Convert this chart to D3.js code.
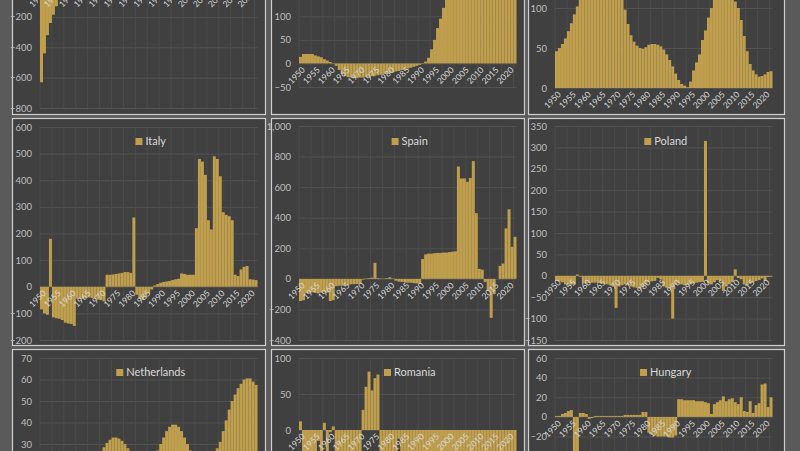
<!DOCTYPE html>
<html><head><meta charset="utf-8">
<script src="https://cdn.jsdelivr.net/npm/d3@7"></script>
<style>
html,body{margin:0;padding:0;background:#5a5a5a;}
svg{display:block;}
</style>
</head><body>
<svg id="chart" width="800" height="451"></svg>
<script>
// ---------- DATA ----------
const years = d3.range(1950, 2023);
const xTickLabels = [1950,1955,1960,1965,1970,1975,1980,1985,1990,1995,2000,2005,2010,2015,2020];

const topLeftValues = [
  -630,-440,-320,-240,-185,-130,-60,-20,10,30,
  60,90,120,150,170,200,220,240,260,280,
  300,310,320,330,320,300,280,260,240,230,
  220,210,200,190,180,180,190,200,220,250,
  280,300,320,330,340,350,360,370,380,390,
  400,410,420,430,440,450,460,470,480,490,
  500,510,520,530,540,550,540,530,520,510,
  500,490,480];
const topLeftTicks = [-800,-600,-400,-200,0,200,400,600];

const topMiddleValues = [
  14,20,20,20,20,17,15,13,9,6,
  3,1,-5,-14,-22,-27,-29,-30,-31,-31,
  -30,-30,-29,-28,-27,-26,-25,-24,-22,-21,
  -20,-19,-17,-16,-14,-13,-11,-9,-7,-5,
  -3,-1,4,12,30,50,75,95,118,135,
  150,170,190,205,220,230,240,245,250,255,
  260,262,265,268,270,272,275,278,280,283,
  285,288,290];
const topMiddleTicks = [-50,0,50,100,150,200,250,300,350];

const topRightValues = [
  46,50,55,62,71,81,92,102,112,122,
  130,136,140,142,143,142,140,137,134,130,
  125,118,110,98,80,66,58,53,50,49,
  51,54,55,55,54,52,48,42,35,27,
  18,10,5,3,1,8,22,32,42,60,
  72,88,100,115,128,138,142,140,132,120,
  108,100,85,65,46,30,22,17,14,15,
  17,20,21];
const topRightTicks = [0,50,100,150,200,250];

const italyValues = [
  -85,-100,-105,180,-115,-118,-120,-125,-135,-138,
  -140,-147,-45,-45,-45,-42,-40,-42,-45,-48,
  -50,-55,45,45,46,48,50,52,55,55,
  52,260,-30,-45,-50,-40,-25,-10,5,10,
  15,18,20,22,25,28,30,50,48,45,
  45,45,220,480,470,420,250,215,490,480,
  415,280,270,265,250,45,40,65,75,78,
  28,27,25];
const italyTicks = [-200,-100,0,100,200,300,400,500,600];

const spainValues = [
  -145,-140,-95,-90,-88,-92,-95,-90,-85,-90,
  -145,-140,-48,-45,-45,-42,-40,-35,-35,-33,
  -30,-5,3,5,8,105,5,3,2,5,
  10,3,-12,-18,-20,-22,-25,-25,-28,-30,
  -32,130,160,165,165,168,170,170,172,172,
  175,178,180,735,657,657,635,660,770,430,
  65,60,-20,-80,-255,-100,0,85,100,330,
  455,210,275];
const spainTicks = [-400,-200,0,200,400,600,800,1000];

const polandValues = [
  -12,-13,-15,-20,-21,-21,-20,3,-2,-18,
  -18,-17,-16,-16,-17,-18,-19,-20,-22,-25,
  -75,-25,-22,-20,-22,-25,-27,-28,-30,-25,
  -20,-15,-13,-12,-5,-8,-25,-28,-30,-100,
  -20,-18,-20,-22,-22,-20,-18,-16,-15,-14,
  315,-18,-20,-15,-10,-12,-35,-25,-20,-15,
  15,-5,-8,-20,-22,-18,-15,-12,-10,-6,
  -12,-3,-2];
const polandTicks = [-150,-100,-50,0,50,100,150,200,250,300,350];

const netherlandsValues = [
  20,19,18,17,16,15,15,16,17,18,
  19,20,21,22,22,23,23,24,24,25,
  26,28.5,30.5,32,33,33,32.5,31.5,30,28,
  26,24,22,21,20,20,21,22,24,27,
  30,33,36,38,39,39,38,36,33,30,
  27,24,22,20,19,19,20,22,24,28,
  31,36,41,46,50,53,56,58,60,60.5,
  60.5,59,57.5];
const netherlandsTicks = [0,10,20,30,40,50,60,70];

const romaniaValues = [
  12,-40,-45,-42,-40,-38,-15,-40,10,-42,
  -3,5,-40,-42,-45,-40,-38,-40,-42,-45,
  -40,28,60,81,55,72,77,-45,-50,-48,
  -45,-42,-40,-12,-44,-46,-48,-50,-55,-60,
  -90,-60,-50,-45,-40,-40,-38,-35,-35,-33,
  -40,-50,-60,-70,-80,-90,-100,-110,-120,-110,
  -100,-90,-85,-80,-75,-70,-65,-60,-55,-50,
  -45,-40,-35];
const romaniaTicks = [-200,-150,-100,-50,0,50,100];

const hungaryValues = [
  1,1,3,4,6,7,-150,-40,4,4,
  3,-2,-1,1,1,1,1,1,1,1,
  1,1,1,2,2,2,2,2,2,5,
  5,-16,-18,-19,-20,-20,-20,-20,-21,-21,
  -19,18,18,17,17,17,17,16,16,16,
  15,14,3,13,15,17,21,16,18,19,
  15,13,20,6,5,16,4,12,14,33,
  34,10,20];
const hungaryTicks = [-160,-140,-120,-100,-80,-60,-40,-20,0,20,40,60];

// ---------- LAYOUT ----------
const colLeft = [12, 271, 528];
const colWidth = [253, 253, 256];
const plotLeft = [40, 299, 555];
const rowTop = [-113, 118, 349];
const panelH = 227;
const plotW = 217.5;

const panels = [
  {name:null, values:topLeftValues, ticks:topLeftTicks, col:0, row:0, yr:[221, 8.5]},
  {name:null, values:topMiddleValues, ticks:topMiddleTicks, col:1, row:0, yr:[200, 11.5]},
  {name:null, values:topRightValues, ticks:topRightTicks, col:2, row:0, yr:[201, 1]},
  {name:"Italy", values:italyValues, ticks:italyTicks, col:0, row:1, yr:[222, 9]},
  {name:"Spain", values:spainValues, ticks:spainTicks, col:1, row:1, yr:[222, 8]},
  {name:"Poland", values:polandValues, ticks:polandTicks, col:2, row:1, yr:[222, 8]},
  {name:"Netherlands", values:netherlandsValues, ticks:netherlandsTicks, col:0, row:2, yr:[159.5, 9]},
  {name:"Romania", values:romaniaValues, ticks:romaniaTicks, col:1, row:2, yr:[225, 9]},
  {name:"Hungary", values:hungaryValues, ticks:hungaryTicks, col:2, row:2, yr:[225, 9]},
];

const BAR = "#bf9f4e";
const FONT = "Lato, 'Open Sans', sans-serif";
const svg = d3.select("#chart");

panels.forEach(p => {
  const px = colLeft[p.col], py = rowTop[p.row];
  const g = svg.append("g").attr("transform", `translate(${px},${py})`);
  g.append("rect").attr("x",0.5).attr("y",0.5)
    .attr("width", colWidth[p.col]).attr("height", panelH)
    .attr("fill","#404040").attr("stroke","#cfcfcf").attr("stroke-width",1.2);

  const pl = plotLeft[p.col] - px;
  const x = d3.scaleBand().domain(years).range([pl, pl + plotW]).padding(0);
  const y = d3.scaleLinear().domain([d3.min(p.ticks), d3.max(p.ticks)]).range(p.yr);

  // horizontal gridlines
  const hg = g.append("g").attr("transform", `translate(${pl},0)`)
    .call(d3.axisLeft(y).tickValues(p.ticks).tickSize(-plotW).tickFormat(""));
  hg.select(".domain").remove();
  hg.selectAll("line").attr("stroke","#575757").attr("stroke-width",0.8);

  // vertical gridlines
  const vYears = years.filter((d,i) => i % 4 === 0);
  const vg = g.append("g").attr("transform", `translate(0,${p.yr[1]})`)
    .call(d3.axisBottom(x).tickValues(vYears).tickSize(p.yr[0]-p.yr[1]).tickFormat(""));
  vg.select(".domain").remove();
  vg.selectAll(".tick").attr("transform", d => `translate(${x(d)},0)`);
  vg.selectAll("line").attr("stroke","#4e4e4e").attr("stroke-width",0.8);

  // bars
  g.append("g").selectAll("rect").data(p.values).join("rect")
    .attr("x", (d,i) => x(years[i]))
    .attr("width", x.bandwidth())
    .attr("y", d => y(Math.max(0,d)))
    .attr("height", d => Math.abs(y(d) - y(0)))
    .attr("fill", BAR);

  // y axis labels
  const ya = g.append("g").attr("transform", `translate(${pl},0)`)
    .call(d3.axisLeft(y).tickValues(p.ticks).tickSize(0).tickPadding(8));
  ya.select(".domain").remove();
  ya.selectAll("text").attr("fill","#bfbfbf").style("font-family",FONT).style("font-size","9.5px");

  // x axis labels at zero line
  const xa = g.append("g").attr("transform", `translate(0,${y(0)})`)
    .call(d3.axisBottom(x).tickValues(xTickLabels).tickSize(0).tickFormat(d => String(d)));
  xa.select(".domain").remove();
  xa.selectAll("text")
    .attr("x",0).attr("y",0).attr("dy","0.35em")
    .attr("text-anchor","end")
    .attr("transform","translate(3,5) rotate(-45)")
    .attr("fill","#d9d9d9").style("font-family",FONT).style("font-size","8.5px");

  // legend
  if (p.name) {
    const lg = g.append("g");
    const txt = lg.append("text").text(p.name)
      .attr("fill","#d9d9d9").style("font-family",FONT).style("font-size","11px")
      .attr("dy","0.35em");
    const tw = txt.node().getComputedTextLength();
    const total = 7 + 3 + tw;
    const cx = pl + plotW/2 + 2;
    const lx = cx - total/2, ly = 23.5;
    lg.insert("rect","text").attr("x", lx).attr("y", ly-3.5).attr("width",7).attr("height",7).attr("fill",BAR);
    txt.attr("x", lx + 10).attr("y", ly);
  }
});
</script>
</body></html>
